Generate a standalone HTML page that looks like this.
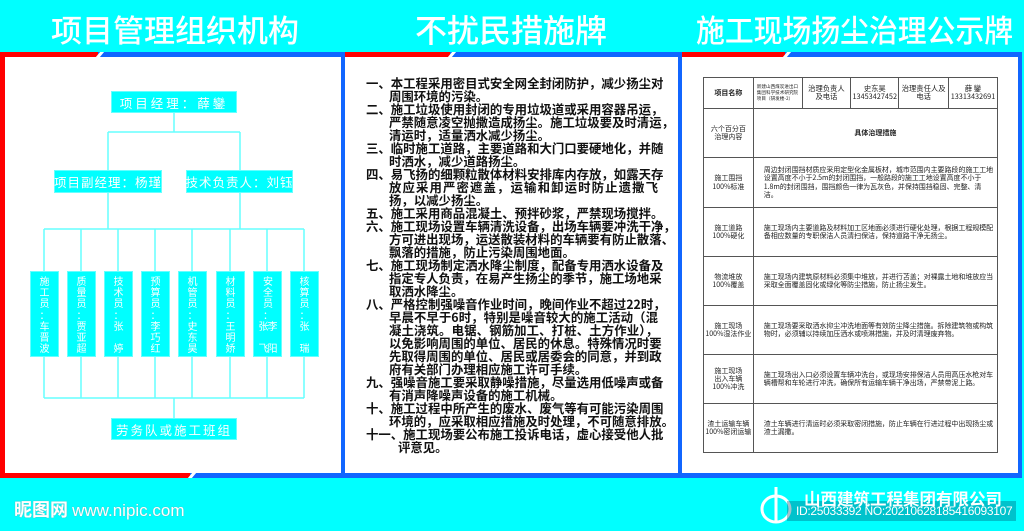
<!DOCTYPE html>
<html><head><meta charset="utf-8"><style>
*{margin:0;padding:0;box-sizing:border-box}
body{width:1024px;height:531px;background:#00ffff;position:relative;overflow:hidden;font-family:"Liberation Sans","Noto Sans CJK SC",sans-serif}
.a{position:absolute}
.t{color:#fff;font-family:"Noto Sans CJK SC",sans-serif;font-weight:500;font-size:31px;line-height:32px;top:13px;white-space:nowrap;transform-origin:left top}
.box{position:absolute;background:#00ffff;border:1px solid #66ffff;color:#fff;font-family:"Noto Sans CJK SC",sans-serif;font-size:12.5px;display:flex;align-items:center;justify-content:center;white-space:nowrap;letter-spacing:1px}
.vb{position:absolute;background:#00ffff;border:1px solid #66ffff;color:#fff;font-family:"Noto Sans CJK SC",sans-serif;font-size:10px;text-align:center;width:29px;top:271px;height:86px;padding-top:3px;overflow:hidden}
.vb span{display:block;height:11.2px;line-height:11.2px;white-space:nowrap}
.mid{position:absolute;left:366px;top:77px;width:292px;font-family:"Noto Sans CJK SC",sans-serif;font-weight:700;font-size:12.4px;line-height:13px;color:#111}
.mid div{white-space:nowrap}
.j{text-align:justify;text-align-last:justify}
.i1{padding-left:23px}
.i2{padding-left:32px}
table{position:absolute;left:703px;top:77px;width:295px;border-collapse:collapse;font-family:"Noto Sans CJK SC",sans-serif;color:#222}
td{border:1px solid #555;text-align:center;font-size:7px;line-height:8.3px;padding:0}
td.c{text-align:left;padding:0 3px 0 10px;font-size:7px;line-height:8.3px;letter-spacing:-.05px}
</style></head><body>
<div class="a t" style="left:51px">项目管理组织机构</div>
<div class="a t" style="left:415px;font-size:32px">不扰民措施牌</div>
<div class="a t" style="left:696px;transform:scaleX(.93)">施工现场扬尘治理公示牌</div>

<div class="a" style="left:0;top:52px;width:1024px;height:426px;background:#1166ff"></div>
<div class="a" style="left:0;top:52px;width:5px;height:426px;background:#ff0000"></div>
<div class="a" style="left:0;top:52px;width:98px;height:5px;background:#ff0000"></div>
<div class="a" style="left:0;top:473px;width:190px;height:5px;background:#ff0000"></div>
<div class="a" style="left:345px;top:52px;width:105px;height:5px;background:#ff0000"></div>
<div class="a" style="left:682px;top:52px;width:103px;height:5px;background:#ff0000"></div>
<div class="a" style="left:98px;top:52px;width:4px;height:5px;background:#fff;transform:skewX(-40deg)"></div>
<div class="a" style="left:450px;top:52px;width:4px;height:5px;background:#fff;transform:skewX(-40deg)"></div>
<div class="a" style="left:785px;top:52px;width:4px;height:5px;background:#fff;transform:skewX(-40deg)"></div>
<div class="a" style="left:190px;top:473px;width:4px;height:5px;background:#fff;transform:skewX(-40deg)"></div>
<div class="a" style="left:5px;top:57px;width:336px;height:416px;background:#fff"></div>
<div class="a" style="left:345px;top:57px;width:333px;height:416px;background:#fff"></div>
<div class="a" style="left:682px;top:57px;width:336px;height:416px;background:#fff"></div>
<div class="a" style="left:1022px;top:52px;width:2px;height:426px;background:#00ffff"></div>

<svg class="a" style="left:0;top:0" width="1024" height="531">
<g stroke="#66ffff" stroke-width="1.5" fill="none">
<line x1="174" y1="113" x2="174" y2="132"/>
<line x1="108" y1="132" x2="240" y2="132"/>
<line x1="108" y1="132" x2="108" y2="170"/>
<line x1="240" y1="132" x2="240" y2="170"/>
<line x1="108" y1="193" x2="108" y2="229"/>
<line x1="240" y1="193" x2="240" y2="229"/>
<line x1="44" y1="229" x2="304" y2="229"/>
<line x1="44" y1="398" x2="304" y2="398"/>
<line x1="174" y1="398" x2="174" y2="418"/>
<path d="M44 229V271M81 229V271M118 229V271M155 229V271M192 229V271M230 229V271M267 229V271M304 229V271"/>
<path d="M44 357V398M81 357V398M118 357V398M155 357V398M192 357V398M230 357V398M267 357V398M304 357V398"/>
</g></svg>
<div class="box" style="left:111px;top:91px;width:126px;height:22px;letter-spacing:3px">项目经理：薛鑾</div>
<div class="box" style="left:54px;top:170px;width:108px;height:23px">项目副经理：杨瑾</div>
<div class="box" style="left:186px;top:170px;width:107px;height:23px">技术负责人：刘钰</div>
<div class="box" style="left:111px;top:418px;width:126px;height:22px;letter-spacing:2px">劳务队或施工班组</div>
<div class="vb" style="left:30px"><span>施</span><span>工</span><span>员</span><span>：</span><span>车</span><span>晋</span><span>波</span></div>
<div class="vb" style="left:67px"><span>质</span><span>量</span><span>员</span><span>：</span><span>贾</span><span>亚</span><span>超</span></div>
<div class="vb" style="left:104px"><span>技</span><span>术</span><span>员</span><span>：</span><span>张</span><span></span><span>婷</span></div>
<div class="vb" style="left:141px"><span>预</span><span>算</span><span>员</span><span>：</span><span>李</span><span>巧</span><span>红</span></div>
<div class="vb" style="left:178px"><span>机</span><span>管</span><span>员</span><span>：</span><span>史</span><span>东</span><span>昊</span></div>
<div class="vb" style="left:216px"><span>材</span><span>料</span><span>员</span><span>：</span><span>王</span><span>明</span><span>娇</span></div>
<div class="vb" style="left:253px;letter-spacing:-1px"><span>安</span><span>全</span><span>员</span><span>：</span><span>张李</span><span></span><span>飞阳</span></div>
<div class="vb" style="left:290px"><span>核</span><span>算</span><span>员</span><span>：</span><span>张</span><span></span><span>瑞</span></div>

<div class="mid">
<div class="j">一、本工程采用密目式安全网全封闭防护，减少扬尘对</div>
<div class="i1">周围环境的污染。</div>
<div class="j">二、施工垃圾使用封闭的专用垃圾道或采用容器吊运，</div>
<div class="i1 j">严禁随意凌空抛撒造成扬尘。施工垃圾要及时清运，</div>
<div class="i1">清运时，适量洒水减少扬尘。</div>
<div class="j">三、临时施工道路，主要道路和大门口要硬地化，并随</div>
<div class="i1">时洒水，减少道路扬尘。</div>
<div class="j">四、易飞扬的细颗粒散体材料安排库内存放，如露天存</div>
<div class="i1 j">放应采用严密遮盖，运输和卸运时防止遗撒飞</div>
<div class="i1">扬，以减少扬尘。</div>
<div class="j">五、施工采用商品混凝土、预拌砂浆，严禁现场搅拌。</div>
<div class="j">六、施工现场设置车辆清洗设备，出场车辆要冲洗干净，</div>
<div class="i1 j">方可进出现场，运送散装材料的车辆要有防止散落、</div>
<div class="i1">飘落的措施，防止污染周围地面。</div>
<div class="j">七、施工现场制定洒水降尘制度，配备专用洒水设备及</div>
<div class="i1 j">指定专人负责，在易产生扬尘的季节，施工场地采</div>
<div class="i1">取洒水降尘。</div>
<div class="j">八、严格控制强噪音作业时间，晚间作业不超过22时，</div>
<div class="i1 j">早晨不早于6时，特别是噪音较大的施工活动（混</div>
<div class="i1 j">凝土浇筑。电锯、钢筋加工、打桩、土方作业），</div>
<div class="i1 j">以免影响周围的单位、居民的休息。特殊情况时要</div>
<div class="i1 j">先取得周围的单位、居民或居委会的同意，并到政</div>
<div class="i1">府有关部门办理相应施工许可手续。</div>
<div class="j">九、强噪音施工要采取静噪措施，尽量选用低噪声或备</div>
<div class="i1">有消声降噪声设备的施工机械。</div>
<div class="j">十、施工过程中所产生的废水、废气等有可能污染周围</div>
<div class="i1 j">环境的，应采取相应措施及时处理，不可随意排放。</div>
<div class="j">十一、施工现场要公布施工投诉电话，虚心接受他人批</div>
<div class="i2">评意见。</div>
</div>

<table>
<colgroup><col style="width:50px"><col style="width:49px"><col style="width:49px"><col style="width:48px"><col style="width:50px"><col style="width:49px"></colgroup>
<tr style="height:31px"><td style="font-weight:700">项目名称</td><td style="font-size:4.6px;line-height:6px;text-align:left;padding-left:3px">新建山西煤炭进出口<br>集团科学技术研究院<br>项目（研发楼-2）</td><td style="font-size:7.3px">治理负责人<br>及电话</td><td style="font-size:7.3px">史东昊<br>13453427452</td><td style="font-size:7.3px">治理责任人及<br>电话</td><td style="font-size:7.3px">薛 鑾<br>13313432691</td></tr>
<tr style="height:49px"><td>六个百分百<br>治理内容</td><td colspan="5" style="font-weight:700">具体治理措施</td></tr>
<tr style="height:50px"><td>施工围挡<br>100%标准</td><td colspan="5" class="c">周边封闭围挡材质应采用定型化金属板材，城市范围内主要路段的施工工地设置高度不小于2.5m的封闭围挡，一般路段的施工工地设置高度不小于1.8m的封闭围挡，围挡颜色一律为瓦灰色，并保持围挡稳固、完整、清洁。</td></tr>
<tr style="height:49px"><td>施工道路<br>100%硬化</td><td colspan="5" class="c">施工现场内主要道路及材料加工区地面必须进行硬化处理，根据工程规模配备相应数量的专职保洁人员清扫保洁，保持道路干净无扬尘。</td></tr>
<tr style="height:49px"><td>物流堆放<br>100%覆盖</td><td colspan="5" class="c">施工现场内建筑原材料必须集中堆放，并进行苫盖；对裸露土地和堆放应当采取全面覆盖固化或绿化等防尘措施，防止扬尘发生。</td></tr>
<tr style="height:49px"><td>施工现场<br>100%湿法作业</td><td colspan="5" class="c">施工现场要采取洒水抑尘冲洗地面等有效防尘降尘措施。拆除建筑物或构筑物时，必须辅以持续加压洒水或喷淋措施，并及时清理废弃物。</td></tr>
<tr style="height:49px"><td>施工现场<br>出入车辆<br>100%冲洗</td><td colspan="5" class="c">施工现场出入口必须设置车辆冲洗台，或现场安排保洁人员用高压水枪对车辆槽帮和车轮进行冲洗，确保所有运输车辆干净出场，严禁带泥上路。</td></tr>
<tr style="height:49px"><td>渣土运输车辆<br>100%密闭运输</td><td colspan="5" class="c">渣土车辆进行清运时必须采取密闭措施，防止车辆在行进过程中出现扬尘或渣土漏撒。</td></tr>
</table>

<div class="a" style="left:14px;top:498px;color:#fff;font-family:'Noto Sans CJK SC',sans-serif;font-weight:700;font-size:18px;line-height:22px;white-space:nowrap;text-shadow:0 0 1px #888">昵图网 <span style="font-family:'Liberation Sans';font-weight:400;font-size:17px">www.nipic.com</span></div>
<svg class="a" style="left:756px;top:485px" width="40" height="40"><g stroke="#fff" stroke-width="3" fill="none"><ellipse cx="20" cy="24" rx="14" ry="13"/><line x1="20" y1="2" x2="20" y2="38"/></g></svg>
<div class="a" style="left:787px;top:501px;width:229px;height:20px;background:rgba(0,80,110,.35)"></div>
<div class="a" style="left:804px;top:489px;color:#fff;font-family:'Noto Sans CJK SC',sans-serif;font-weight:700;font-size:16.5px;line-height:18px;white-space:nowrap">山西建筑工程集团有限公司</div>
<div class="a" style="left:796px;top:504px;color:#fff;font-size:12px;line-height:14px;white-space:nowrap;letter-spacing:-.3px">ID:25033392 NO:20210628185416093107</div>
</body></html>
